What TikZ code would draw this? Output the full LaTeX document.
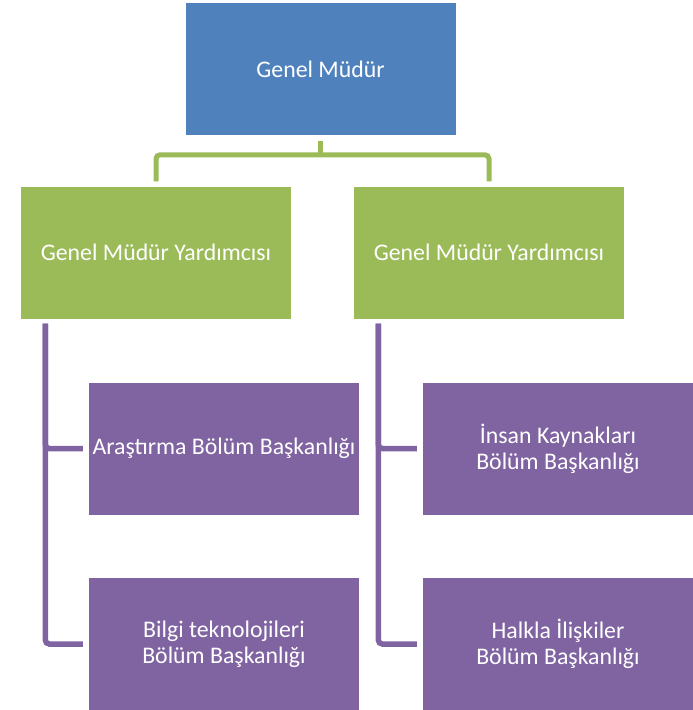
\documentclass[tikz,border=0pt]{standalone}
\usepackage{fontspec}
\setmainfont{Carlito}
\definecolor{MudurClr}{HTML}{4F81BD}
\definecolor{YrdClr}{HTML}{9BBB59}
\definecolor{BolumClr}{HTML}{8064A2}

\begin{document}
\begin{tikzpicture}[x=1pt,y=-1pt,
  box/.style={minimum width=270pt,minimum height=132pt,inner sep=0pt,
    align=center,text=white,font=\fontsize{23.8}{26}\selectfont},
  yrdline/.style={line width=5pt,color=YrdClr,rounded corners=4pt},
  bolumline/.style={line width=5.5pt,color=BolumClr,rounded corners=4pt,
    shorten <=5pt,shorten >=6pt}]
\useasboundingbox (0,0) rectangle (693,710);

% boxes
\node[box,fill=MudurClr] (gm) at (320.5,69) {Genel Müdür};
\node[box,fill=YrdClr] (gmy1) at (156,252.5) {Genel Müdür Yardımcısı};
\node[box,fill=YrdClr] (gmy2) at (489,252.5) {Genel Müdür Yardımcısı};

\node[box,fill=BolumClr] (arastirma) at (224,448.5) {Araştırma Bölüm Başkanlığı};
\node[box,fill=BolumClr] (bilgi) at (224,644) {Bilgi teknolojileri\\Bölüm Başkanlığı};
\node[box,fill=BolumClr] (insan) at (558,448.5) {İnsan Kaynakları\\Bölüm Başkanlığı};
\node[box,fill=BolumClr] (halkla) at (558,644) {Halkla İlişkiler\\Bölüm Başkanlığı};

% connectors
\draw[yrdline,shorten <=6pt] (gm.south) -- ++(0,21);
\draw[yrdline,shorten <=5pt,shorten >=5pt] (gmy1.north) -- ++(0,-31.5) -| (gmy2.north);

\draw[bolumline] ([xshift=24.5pt]gmy1.south west) |- (arastirma.west);
\draw[bolumline] ([xshift=24.5pt]gmy1.south west) |- (bilgi.west);
\draw[bolumline] ([xshift=24.5pt]gmy2.south west) |- (insan.west);
\draw[bolumline] ([xshift=24.5pt]gmy2.south west) |- (halkla.west);
\end{tikzpicture}
\end{document}
